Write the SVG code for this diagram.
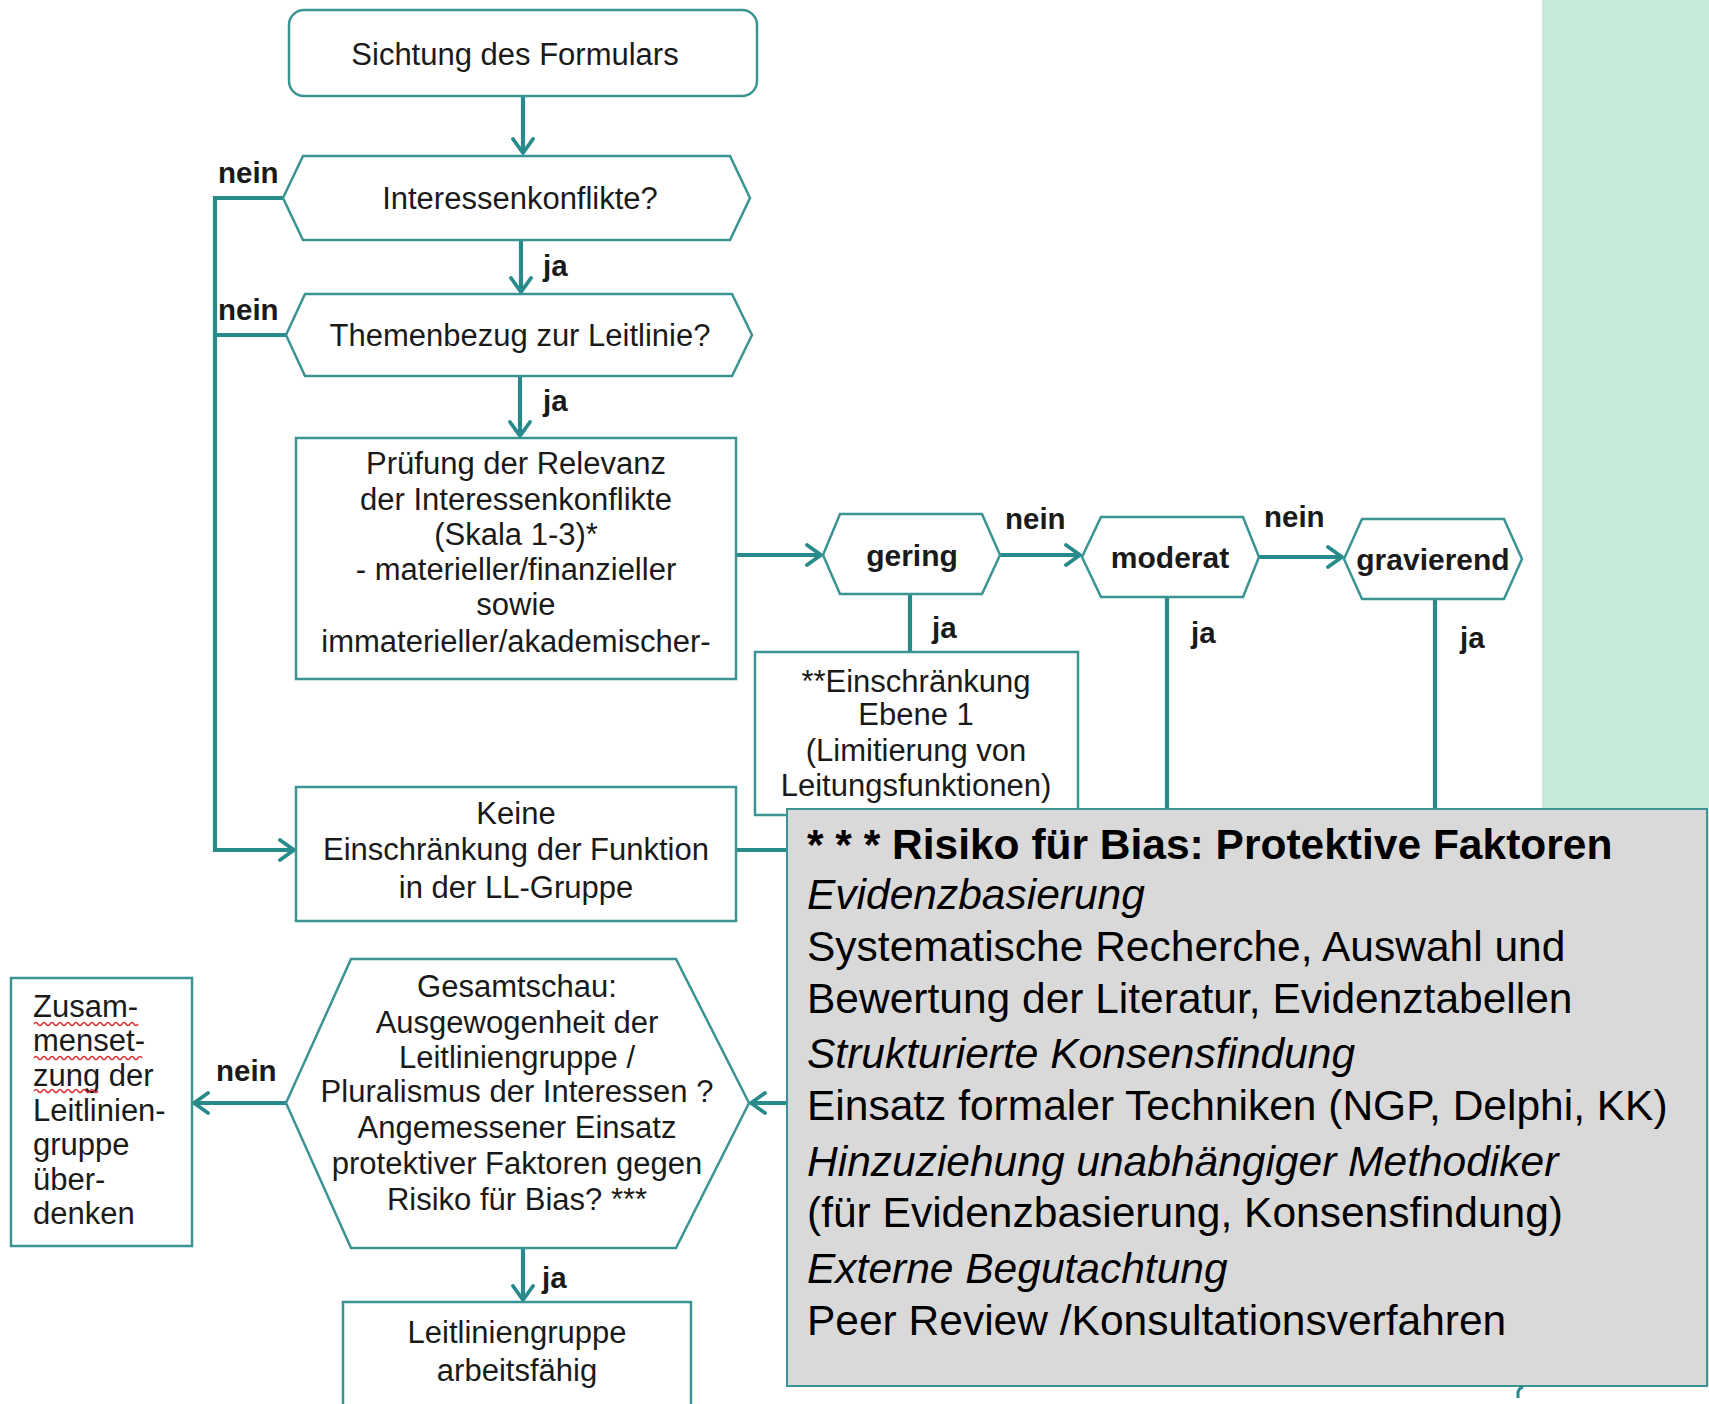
<svg xmlns="http://www.w3.org/2000/svg" width="1709" height="1404" viewBox="0 0 1709 1404">
<defs>
<marker id="arr" viewBox="0 0 18 24" refX="16" refY="12" markerWidth="18" markerHeight="24" markerUnits="userSpaceOnUse" orient="auto">
<path d="M2,2 L16,12 L2,22" fill="none" stroke="#288a8a" stroke-width="3.8" stroke-linecap="round" stroke-linejoin="round"/>
</marker>
</defs>
<style>
.n{fill:#ffffff;stroke:#3a9494;stroke-width:2.5}
.c{fill:none;stroke:#288a8a;stroke-width:4.2}
.t{font-family:"Liberation Sans",Arial,sans-serif;font-size:31px;fill:#1a1a1a;text-anchor:middle}
.b{font-family:"Liberation Sans",Arial,sans-serif;font-size:29.5px;font-weight:bold;fill:#1a1a1a}
.hb{font-family:"Liberation Sans",Arial,sans-serif;font-size:30px;font-weight:bold;fill:#1a1a1a;text-anchor:middle}
.g{font-family:"Liberation Sans",Arial,sans-serif;font-size:42.5px;fill:#000000}
.wavy{fill:none;stroke:#e03030;stroke-width:1.5}
</style>
<rect width="1709" height="1404" fill="#ffffff"/>
<rect x="1542" y="0" width="167" height="1386" fill="#c8eadb"/>

<g id="connectors">
<path class="c" d="M523,96 V153" marker-end="url(#arr)"/>
<path class="c" d="M521,240 V292" marker-end="url(#arr)"/>
<path class="c" d="M520,376 V436" marker-end="url(#arr)"/>
<path class="c" d="M283,198 H215 V850 H294" marker-end="url(#arr)"/>
<path class="c" d="M286,335 H215"/>
<path class="c" d="M736,555 H821" marker-end="url(#arr)"/>
<path class="c" d="M1000,555 H1080" marker-end="url(#arr)"/>
<path class="c" d="M1259,557 H1342" marker-end="url(#arr)"/>
<path class="c" d="M910,593 V652"/>
<path class="c" d="M1167,597 V1103"/>
<path class="c" d="M1435,599 V1103 H751" marker-end="url(#arr)"/>
<path class="c" d="M736,850 H900 V1103"/>
<path class="c" d="M286,1103 H194" marker-end="url(#arr)"/>
<path class="c" d="M523,1248 V1300" marker-end="url(#arr)"/>
</g>

<g id="labels">
<text class="b" x="218" y="183">nein</text>
<text class="b" x="543" y="276">ja</text>
<text class="b" x="218" y="320">nein</text>
<text class="b" x="543" y="411">ja</text>
<text class="b" x="1005" y="529">nein</text>
<text class="b" x="1264" y="527">nein</text>
<text class="b" x="932" y="638">ja</text>
<text class="b" x="1191" y="643">ja</text>
<text class="b" x="1460" y="648">ja</text>
<text class="b" x="216" y="1081">nein</text>
<text class="b" x="542" y="1288">ja</text>
</g>

<g id="n-sichtung">
<rect class="n" x="289" y="10" width="468" height="86" rx="15"/>
<text class="t" x="515" y="65">Sichtung des Formulars</text>
</g>

<g id="n-interessen">
<polygon class="n" points="283,198 303,156 730,156 750,198 730,240 303,240"/>
<text class="t" x="520" y="209">Interessenkonflikte?</text>
</g>

<g id="n-themen">
<polygon class="n" points="286,335 305,294 732,294 752,335 732,376 305,376"/>
<text class="t" x="520" y="346">Themenbezug zur Leitlinie?</text>
</g>

<g id="n-pruefung">
<rect class="n" x="296" y="438" width="440" height="241"/>
<text class="t" x="516" y="474">Prüfung der Relevanz</text>
<text class="t" x="516" y="510">der Interessenkonflikte</text>
<text class="t" x="516" y="545">(Skala 1-3)*</text>
<text class="t" x="516" y="580">- materieller/finanzieller</text>
<text class="t" x="516" y="615">sowie</text>
<text class="t" x="516" y="652">immaterieller/akademischer-</text>
</g>

<g id="n-gering">
<polygon class="n" points="823,555 840,514 982,514 1000,555 982,594 840,594"/>
<text class="hb" x="912" y="566">gering</text>
</g>

<g id="n-moderat">
<polygon class="n" points="1082,557 1101,517 1243,517 1259,557 1243,597 1101,597"/>
<text class="hb" x="1170" y="568">moderat</text>
</g>

<g id="n-gravierend">
<polygon class="n" points="1344,559 1362,519 1504,519 1522,559 1504,599 1362,599"/>
<text class="hb" x="1433" y="570">gravierend</text>
</g>

<g id="n-einschraenkung">
<rect class="n" x="755" y="652" width="323" height="163"/>
<text class="t" x="916" y="692">**Einschränkung</text>
<text class="t" x="916" y="725">Ebene 1</text>
<text class="t" x="916" y="761">(Limitierung von</text>
<text class="t" x="916" y="796">Leitungsfunktionen)</text>
</g>

<g id="n-keine">
<rect class="n" x="296" y="787" width="440" height="134"/>
<text class="t" x="516" y="824">Keine</text>
<text class="t" x="516" y="860">Einschränkung der Funktion</text>
<text class="t" x="516" y="898">in der LL-Gruppe</text>
</g>

<g id="n-gesamtschau">
<polygon class="n" points="286,1103 351,959 676,959 749,1103 676,1248 351,1248"/>
<text class="t" x="517" y="997">Gesamtschau:</text>
<text class="t" x="517" y="1033">Ausgewogenheit der</text>
<text class="t" x="517" y="1068">Leitliniengruppe /</text>
<text class="t" x="517" y="1102">Pluralismus der Interessen ?</text>
<text class="t" x="517" y="1138">Angemessener Einsatz</text>
<text class="t" x="517" y="1174">protektiver Faktoren gegen</text>
<text class="t" x="517" y="1210">Risiko für Bias? ***</text>
</g>

<g id="n-zusam">
<rect class="n" x="11" y="978" width="181" height="268"/>
<g class="t" style="text-anchor:start">
<text x="33" y="1017">Zusam-</text>
<text x="33" y="1051">menset-</text>
<text x="33" y="1086">zung der</text>
<text x="33" y="1121">Leitlinien-</text>
<text x="33" y="1155">gruppe</text>
<text x="33" y="1190">über-</text>
<text x="33" y="1224">denken</text>
</g>
<path class="wavy" d="M34,1024 q2,-3 4,0 t4,0 t4,0 t4,0 t4,0 t4,0 t4,0 t4,0 t4,0 t4,0 t4,0 t4,0 t4,0 t4,0 t4,0 t4,0 t4,0 t4,0 t4,0 t4,0 t4,0 t4,0 t4,0 t4,0 t4,0 t4,0"/>
<path class="wavy" d="M34,1058 q2,-3 4,0 t4,0 t4,0 t4,0 t4,0 t4,0 t4,0 t4,0 t4,0 t4,0 t4,0 t4,0 t4,0 t4,0 t4,0 t4,0 t4,0 t4,0 t4,0 t4,0 t4,0 t4,0 t4,0 t4,0 t4,0 t4,0 t4,0"/>
<path class="wavy" d="M34,1091 q2,-3 4,0 t4,0 t4,0 t4,0 t4,0 t4,0 t4,0 t4,0 t4,0 t4,0 t4,0 t4,0 t4,0 t4,0 t4,0 t4,0"/>
</g>

<g id="n-arbeitsfaehig">
<rect class="n" x="343" y="1302" width="348" height="110"/>
<text class="t" x="517" y="1343">Leitliniengruppe</text>
<text class="t" x="517" y="1381">arbeitsfähig</text>
</g>

<g id="n-bias">
<rect x="787" y="809" width="920" height="577" fill="#d9d9d9" stroke="#3a9494" stroke-width="2"/>
<text class="g" x="807" y="859" font-weight="bold">* * * Risiko für Bias: Protektive Faktoren</text>
<text class="g" x="807" y="909" font-style="italic">Evidenzbasierung</text>
<text class="g" x="807" y="961">Systematische Recherche, Auswahl und</text>
<text class="g" x="807" y="1013">Bewertung der Literatur, Evidenztabellen</text>
<text class="g" x="807" y="1068" font-style="italic">Strukturierte Konsensfindung</text>
<text class="g" x="807" y="1120">Einsatz formaler Techniken (NGP, Delphi, KK)</text>
<text class="g" x="807" y="1176" font-style="italic">Hinzuziehung unabhängiger Methodiker</text>
<text class="g" x="807" y="1227">(für Evidenzbasierung, Konsensfindung)</text>
<text class="g" x="807" y="1283" font-style="italic">Externe Begutachtung</text>
<text class="g" x="807" y="1335">Peer Review /Konsultationsverfahren</text>
</g>
<path d="M1518,1398 V1392 Q1519,1388 1523,1387" fill="none" stroke="#288a8a" stroke-width="3"/>
</svg>
